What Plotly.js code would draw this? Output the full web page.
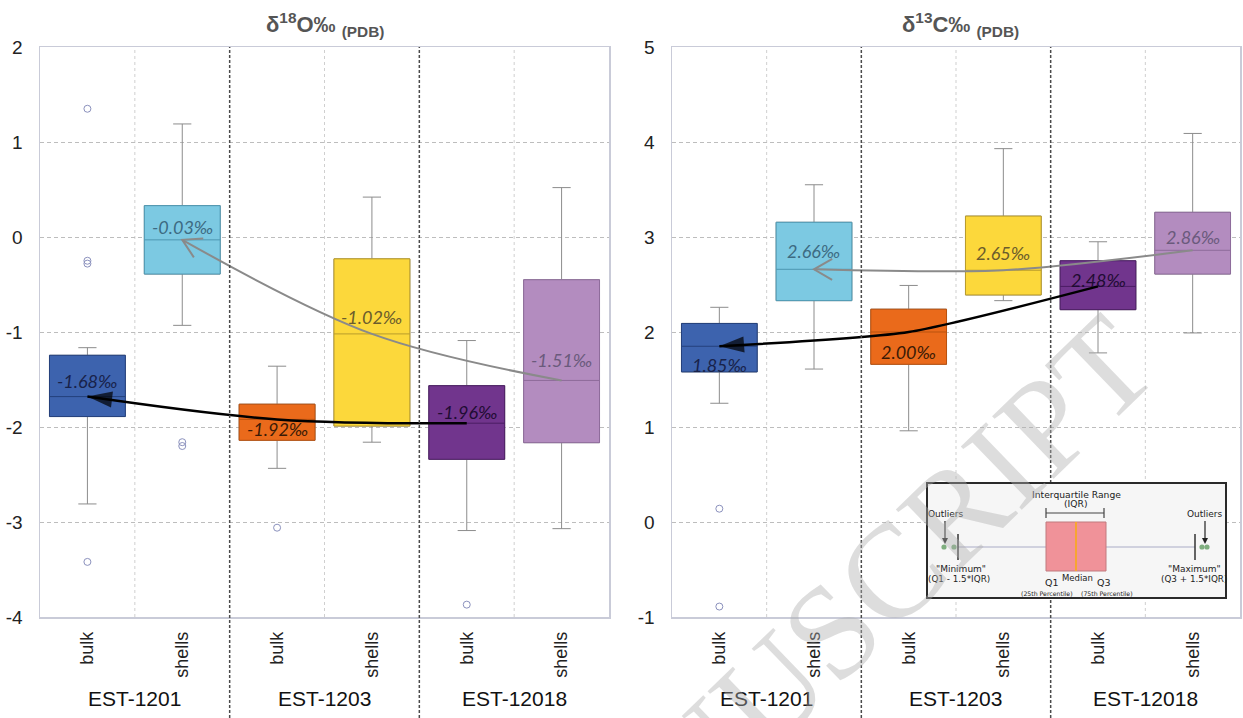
<!DOCTYPE html>
<html><head><meta charset="utf-8">
<script src="https://cdn.plot.ly/plotly-3.0.1.min.js"></script>
<style>html,body{margin:0;padding:0;background:#fff}#chart{width:1243px;height:718px}</style>
</head><body><div id="chart"></div>
<script>
// ---------- data ----------
const categories = ['bulk','shells','bulk','shells','bulk','shells'];
const sites = ['EST-1201','EST-1203','EST-12018'];
const o_ticks = [-4, -3, -2, -1, 0, 1, 2];
const c_ticks = [-1, 0, 1, 2, 3, 4, 5];

// δ18O (PDB)
const o_q1  = [-1.89, -0.39, -2.14, -1.99, -2.34, -2.165];
const o_med = [-1.68, -0.03, -1.92, -1.02, -1.96, -1.51];
const o_q3  = [-1.245, 0.33, -1.76, -0.23, -1.565, -0.45];
const o_lo  = [-2.81, -0.93, -2.435, -2.16, -3.09, -3.07];
const o_hi  = [-1.165, 1.19, -1.36, 0.42, -1.09, 0.52];
const o_outX = [0, 0, 0, 0, 1, 1, 2, 4];
const o_outY = [1.35, -0.25, -0.28, -3.42, -2.16, -2.20, -3.06, -3.87];

// δ13C (PDB)
const c_q1  = [1.58, 2.33, 1.66, 2.39, 2.235, 2.61];
const c_med = [1.85, 2.66, 2.00, 2.65, 2.48, 2.86];
const c_q3  = [2.09, 3.155, 2.24, 3.22, 2.75, 3.26];
const c_lo  = [1.25, 1.61, 0.96, 2.33, 1.78, 1.99];
const c_hi  = [2.26, 3.55, 2.49, 3.93, 2.95, 4.09];
const c_outX = [0, 0];
const c_outY = [0.14, -0.89];

// ---------- styles ----------
const boxColors   = ['#3D63AE','#7CC9E2','#EA6A1B','#FCD83B','#71358D','#B38CBF'];
const edgeColors  = ['#24407c','#4d98b2','#b9520f','#b99c2c','#4a1d63','#8e6c9b'];
const labelColors = ['#18224a','#3d6b82','#3a1a06','#6b5c2c','#1f0c33','#6a5a7c'];
const o_shift = [16, 13, -10, 17, 11, 20];
const c_shift = [-19, 18, -20, 17, 6, 13];

const W = 1243, H = 718;
const X = p => p / W, Y = p => 1 - p / H;
const dom1 = [40, 609], dom2 = [672, 1240], domY = [47, 617];

const traces = [];
function addBoxes(q1, med, q3, lo, hi, xa, ya) {
  for (let i = 0; i < 6; i++) {
    const base = {type:'box', x:[i], q1:[q1[i]], median:[med[i]], q3:[q3[i]],
      width:0.8, boxpoints:false, xaxis:xa, yaxis:ya, hoverinfo:'skip', showlegend:false,
      fillcolor:boxColors[i]};
    traces.push(Object.assign({}, base, {lowerfence:[lo[i]], upperfence:[hi[i]],
      whiskerwidth:0.24, line:{color:'#8c8c8c', width:1}}));
    traces.push(Object.assign({}, base, {lowerfence:[q1[i]], upperfence:[q3[i]],
      whiskerwidth:0, line:{color:edgeColors[i], width:1}}));
  }
}
addBoxes(o_q1, o_med, o_q3, o_lo, o_hi, 'x', 'y');
addBoxes(c_q1, c_med, c_q3, c_lo, c_hi, 'x2', 'y2');

traces.push({type:'scatter', mode:'markers', x:o_outX, y:o_outY, xaxis:'x', yaxis:'y',
  marker:{symbol:'circle-open', size:7, color:'#8b91bd', line:{width:1}}, hoverinfo:'skip', showlegend:false});
traces.push({type:'scatter', mode:'markers', x:c_outX, y:c_outY, xaxis:'x2', yaxis:'y2',
  marker:{symbol:'circle-open', size:7, color:'#8b91bd', line:{width:1}}, hoverinfo:'skip', showlegend:false});

const bulkIdx = [4, 2, 0], shellIdx = [5, 3, 1];
function trend(idx, med, xa, ya, color, width, smooth, head) {
  const t = {type:'scatter', x:idx, y:idx.map(i => med[i]), xaxis:xa, yaxis:ya,
    line:{color:color, width:width, shape:'spline', smoothing:smooth},
    hoverinfo:'skip', showlegend:false, mode:'lines'};
  if (head) {
    t.mode = 'lines+markers';
    t.marker = {symbol:'arrow', angleref:'previous', size:[0,0,26], color:color, line:{width:0}};
  }
  traces.push(t);
}
trend(shellIdx, o_med, 'x', 'y', '#8a8a8a', 2, 1, false);
trend(bulkIdx, o_med, 'x', 'y', '#000', 2.5, 1, true);
trend(shellIdx, c_med, 'x2', 'y2', '#8a8a8a', 2, 0.8, false);
trend(bulkIdx, c_med, 'x2', 'y2', '#000', 2.5, 0.6, true);

// ---------- layout ----------
const shapes = [], annotations = [];

function axisShapes(xref) {
  [0.5, 2.5, 4.5].forEach(v => shapes.push({type:'line', xref:xref, yref:'paper', x0:v, x1:v,
    y0:Y(domY[1]), y1:Y(domY[0]), line:{color:'#cfcfcf', width:1, dash:'3px,3px'}, layer:'below'}));
  [1.5, 3.5].forEach(v => shapes.push({type:'line', xref:xref, yref:'paper', x0:v, x1:v,
    y0:0, y1:Y(domY[0]), line:{color:'#4a4a4a', width:1.5, dash:'3px,2px'}, layer:'above'}));
}
axisShapes('x'); axisShapes('x2');

// open V arrowheads for the grey (shells) lines, direction taken from the last two medians
function vHead(idx, med, xref, yref, dom, color) {
  const sx = (dom[1] - dom[0]) / 6, sy = (domY[1] - domY[0]) / 6;
  const tip = idx[idx.length - 1], prev = idx[idx.length - 2];
  let ux = (prev - tip) * sx, uy = (med[prev] - med[tip]) * sy;
  const n = Math.hypot(ux, uy); ux /= n; uy /= n;
  const L = 21, a = 30 * Math.PI / 180;
  const r = (ang) => [L * (ux * Math.cos(ang) - uy * Math.sin(ang)), L * (ux * Math.sin(ang) + uy * Math.cos(ang))];
  const p1 = r(a), p2 = r(-a);
  shapes.push({type:'path', xref:xref, yref:yref, xsizemode:'pixel', ysizemode:'pixel',
    xanchor:tip, yanchor:med[tip],
    path:`M${p1[0].toFixed(1)},${p1[1].toFixed(1)} L0,0 L${p2[0].toFixed(1)},${p2[1].toFixed(1)}`,
    line:{color:color, width:2}, layer:'above'});
}
vHead(shellIdx, o_med, 'x', 'y', dom1, '#8a8a8a');
vHead(shellIdx, c_med, 'x2', 'y2', dom2, '#8a8a8a');

// median labels
function medLabels(med, shift, xref, yref) {
  for (let i = 0; i < 6; i++) {
    annotations.push({xref:xref, yref:yref, x:i, y:med[i], yshift:shift[i], showarrow:false,
      xanchor:'center', yanchor:'middle',
      text:'<i>' + med[i].toFixed(2) + '‰</i>', font:{family:'Lato, Open Sans, sans-serif', size:18, color:labelColors[i]}});
  }
}
medLabels(o_med, o_shift, 'x', 'y');
medLabels(c_med, c_shift, 'x2', 'y2');

// group labels
['x', 'x2'].forEach(xr => {
  sites.forEach((s, k) => annotations.push({xref:xr, yref:'paper', x:2 * k + 0.5, y:Y(698), showarrow:false,
    xanchor:'center', yanchor:'middle',
    text:s, font:{family:'Liberation Sans, Arial', size:21, color:'#111'}}));
});

// titles
function pText(x, y, t, size, color, family) { annotations.push({xref:'paper', yref:'paper', x:X(x), y:Y(y), text:t,
  showarrow:false, xanchor:'center', yanchor:'middle',
  font:{family:family || 'DejaVu Sans, sans-serif', size:size, color:color || '#222'}}); }
pText(325, 24, '<b>δ<sup>18</sup>O‰ <sub>(PDB)</sub></b>', 22, '#555', 'Liberation Sans, Arial');
pText(960, 24, '<b>δ<sup>13</sup>C‰ <sub>(PDB)</sub></b>', 22, '#555', 'Liberation Sans, Arial');

// ---------- inset: box plot explanation ----------
function pRect(x0, y0, x1, y1, st) { shapes.push(Object.assign({type:'rect', xref:'paper', yref:'paper',
  x0:X(x0), x1:X(x1), y0:Y(y1), y1:Y(y0), layer:'above'}, st)); }
function pLine(x0, y0, x1, y1, color, w) { shapes.push({type:'line', xref:'paper', yref:'paper',
  x0:X(x0), x1:X(x1), y0:Y(y0), y1:Y(y1), line:{color:color, width:w}, layer:'above'}); }
function pCircle(cx, cy, r, color) { shapes.push({type:'circle', xref:'paper', yref:'paper',
  x0:X(cx - r), x1:X(cx + r), y0:Y(cy + r), y1:Y(cy - r), fillcolor:color, line:{width:0}, layer:'above'}); }
function pArrow(x, y0, y1) {
  pLine(x, y0, x, y1 - 5, '#222', 1.2);
  shapes.push({type:'path', xref:'paper', yref:'paper', layer:'above', fillcolor:'#222', line:{width:0},
    path:`M${X(x - 3)},${Y(y1 - 6)} L${X(x + 3)},${Y(y1 - 6)} L${X(x)},${Y(y1)} Z`});
}

pRect(927, 483, 1226, 598, {fillcolor:'#f6f6f6', line:{color:'#2a2a2a', width:2}});
pLine(958, 547, 1046, 547, '#a9abc6', 1.2);
pLine(1106, 547, 1195, 547, '#a9abc6', 1.2);
pLine(958, 534, 958, 560, '#333', 1.5);
pLine(1195, 534, 1195, 560, '#333', 1.5);
pRect(1046, 522, 1106, 571, {fillcolor:'#f09299', line:{color:'#c07a7f', width:1}});
pLine(1076, 522, 1076, 571, '#f7a531', 2);
pLine(1046, 513, 1104, 513, '#444', 1.2);
pLine(1046, 508, 1046, 518, '#444', 1.2);
pLine(1104, 508, 1104, 518, '#444', 1.2);
pCircle(944, 547, 2.6, '#7fae7f');
pCircle(954, 547, 2.6, '#7fae7f');
pCircle(1202, 547, 2.6, '#7fae7f');
pCircle(1207, 547, 2.6, '#7fae7f');
pArrow(945, 521, 544);
pArrow(1205, 521, 544);
pText(1076, 494, 'Interquartile Range', 9.2);
pText(1076, 504, '(IQR)', 9.2);
pText(946, 514, 'Outliers', 9);
pText(1205, 514, 'Outliers', 9);
pText(961, 569, '"Minimum"', 9);
pText(959, 579, '(Q1 - 1.5*IQR)', 8.8);
pText(1194, 569, '"Maximum"', 9);
pText(1194, 579, '(Q3 + 1.5*IQR)', 8.8);
pText(1052, 582, 'Q1', 9.5);
pText(1077, 578, 'Median', 8.5);
pText(1104, 582, 'Q3', 9.5);
pText(1047, 593, '(25th Percentile)', 6.2);
pText(1107, 593, '(75th Percentile)', 6.2);

// watermark
annotations.push({xref:'paper', yref:'paper', x:X(821), y:Y(641), showarrow:false, textangle:-44,
  xanchor:'center', yanchor:'middle',
  text:'MANUSCRIPT', font:{family:'Liberation Serif, Times New Roman, serif', size:134, color:'rgba(175,175,175,0.42)'}});

function xAxis(dom, anchor) {
  return {domain:[X(dom[0]), X(dom[1])], anchor:anchor, range:[-0.5, 5.5], tickmode:'array',
    tickvals:[0,1,2,3,4,5], ticktext:categories, tickangle:-90, showgrid:false, zeroline:false,
    showline:true, mirror:true, linecolor:'#c9cbd8', linewidth:1.5, ticks:'outside', ticklen:6,
    tickcolor:'rgba(0,0,0,0)', tickfont:{family:'Liberation Sans, Arial', size:18, color:'#222'},
    automargin:false, fixedrange:true};
}
function yAxis(range, ticks, anchor) {
  return {domain:[Y(domY[1]), Y(domY[0])], anchor:anchor, range:range, tickmode:'array',
    tickvals:ticks, ticktext:ticks.map(v => String(v)),
    showgrid:true, gridcolor:'#bdbdbd', griddash:'4px,3px', gridwidth:1, zeroline:false,
    showline:true, mirror:true, linecolor:'#c9cbd8', linewidth:1.5, ticks:'outside', ticklen:12,
    tickcolor:'rgba(0,0,0,0)', tickfont:{family:'Liberation Sans, Arial', size:19, color:'#222'},
    automargin:false, fixedrange:true};
}

const layout = {
  width:W, height:H, margin:{l:0, r:0, t:0, b:0}, paper_bgcolor:'#fff', plot_bgcolor:'#fff',
  showlegend:false, boxmode:'overlay',
  xaxis:xAxis(dom1, 'y'), yaxis:yAxis([-4, 2], o_ticks, 'x'),
  xaxis2:xAxis(dom2, 'y2'), yaxis2:yAxis([-1, 5], c_ticks, 'x2'),
  shapes:shapes, annotations:annotations
};

Plotly.newPlot('chart', traces, layout, {staticPlot:true, displayModeBar:false});
</script>
</body></html>
